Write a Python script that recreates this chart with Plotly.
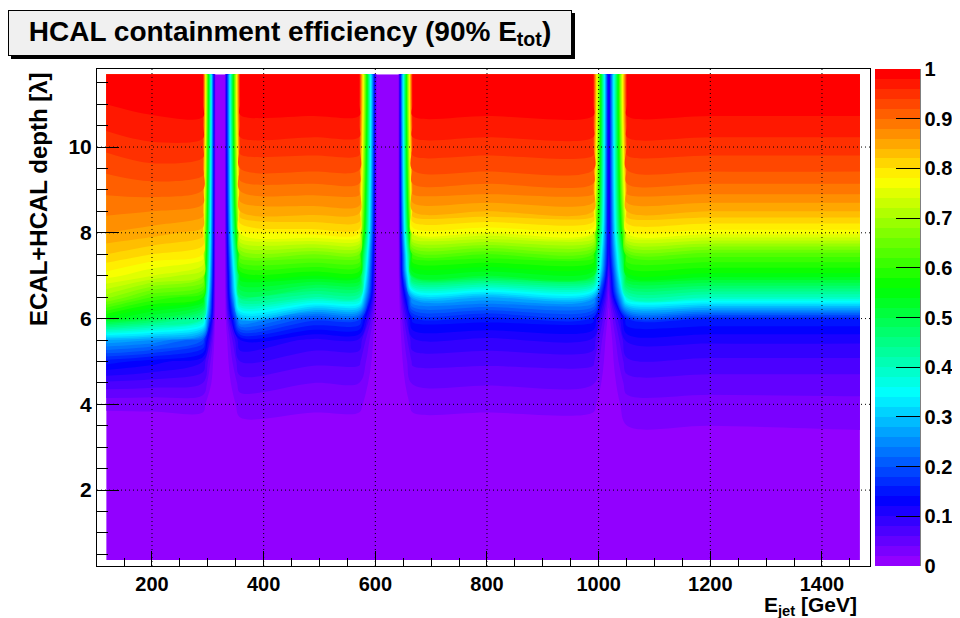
import colorsys
import numpy as np
import plotly.graph_objects as go

# ---------------- data ----------------
energy = [118, 200, 291, 314, 330, 358, 490, 571, 603, 641, 667, 800, 990, 1018, 1051, 1200, 1468]
depth = [0.37, 1.0, 2.0, 3.0, 3.5, 4.0, 4.5, 5.0, 5.5, 6.0, 6.5, 7.0, 7.5, 8.0, 8.5, 9.0, 9.5, 10.0, 10.5, 11.0, 11.70]

eff_120 = [0, 0, 0, 0.003, 0.008, 0.025, 0.075, 0.15, 0.28, 0.55, 0.69, 0.77, 0.82, 0.86, 0.885, 0.905, 0.925, 0.945, 0.965, 0.98, 0.99]
eff_200 = [0, 0, 0, 0.005, 0.01, 0.025, 0.07, 0.13, 0.26, 0.50, 0.62, 0.74, 0.80, 0.85, 0.88, 0.91, 0.935, 0.955, 0.975, 0.985, 0.995]
eff_290 = [0, 0, 0, 0.005, 0.012, 0.025, 0.06, 0.10, 0.20, 0.42, 0.58, 0.70, 0.78, 0.83, 0.87, 0.90, 0.93, 0.95, 0.975, 0.988, 0.995]
eff_gap = [0, 0, 0, 0, 0, 0, 0, 0, 0, 0, 0, 0, 0, 0, 0, 0, 0, 0, 0, 0, 0]
eff_360 = [0, 0, 0, 0.005, 0.015, 0.028, 0.05, 0.08, 0.12, 0.28, 0.47, 0.56, 0.66, 0.77, 0.84, 0.885, 0.92, 0.95, 0.972, 0.988, 0.995]
eff_490 = [0, 0, 0, 0.005, 0.012, 0.025, 0.04, 0.065, 0.095, 0.19, 0.42, 0.56, 0.66, 0.79, 0.85, 0.89, 0.925, 0.95, 0.972, 0.99, 0.995]
eff_730 = [0, 0, 0, 0.005, 0.012, 0.025, 0.042, 0.065, 0.095, 0.15, 0.28, 0.52, 0.62, 0.76, 0.84, 0.89, 0.925, 0.95, 0.972, 0.99, 0.995]
eff_1018 = [0, 0, 0, 0, 0, 0, 0, 0, 0, 0.01, 0.03, 0.06, 0.10, 0.10, 0.10, 0.10, 0.10, 0.10, 0.10, 0.10, 0.10]
eff_1200 = [0, 0, 0, 0.008, 0.02, 0.032, 0.05, 0.075, 0.105, 0.16, 0.40, 0.55, 0.63, 0.77, 0.84, 0.89, 0.925, 0.95, 0.972, 0.99, 0.995]
eff_1468 = [0, 0, 0, 0.012, 0.022, 0.034, 0.05, 0.075, 0.105, 0.16, 0.40, 0.55, 0.63, 0.77, 0.84, 0.89, 0.925, 0.95, 0.972, 0.99, 0.995]

columns = [eff_120, eff_200, eff_290, eff_gap, eff_gap, eff_360, eff_490, eff_490,
           eff_gap, eff_gap, eff_730, eff_730, eff_730, eff_1018, eff_1200, eff_1200, eff_1468]

x_ticks = [200, 400, 600, 800, 1000, 1200, 1400]
y_ticks = [2, 4, 6, 8, 10]
cbar_ticks = [0, 0.1, 0.2, 0.3, 0.4, 0.5, 0.6, 0.7, 0.8, 0.9, 1]
cbar_labels = ["0", "0.1", "0.2", "0.3", "0.4", "0.5", "0.6", "0.7", "0.8", "0.9", "1"]

# ---------------- layout geometry (page has an 8px body margin) ----------------
OFF = 8
W, H = 960 - OFF, 618 - OFF
L, R, T, B = 97 - OFF, 90, 69 - OFF, 52
PW, PH = W - L - R, H - T - B


def px(xp):  # reference-picture x pixel -> paper
    return (xp - OFF - L) / PW


def py(yp):  # reference-picture y pixel -> paper
    return (H - B - (yp - OFF)) / PH


# ROOT "pretty palette" (50 colours, hue 280 -> 0)
n_col = 50
pal = []
for k in range(n_col):
    hue = 280 - (k + 1) * (280 / n_col)
    r, g, b = colorsys.hls_to_rgb(hue / 360.0, 0.5, 1.0)
    pal.append("rgb(%d,%d,%d)" % (round(r * 255), round(g * 255), round(b * 255)))

cs_fill = [[k / (n_col - 1), c] for k, c in enumerate(pal)]
cs_step = []
for k, c in enumerate(pal):
    cs_step.append([k / n_col, c])
    cs_step.append([(k + 1) / n_col, c])

FONT = "Liberation Sans, Arial, Helvetica, sans-serif"

z = np.array(columns).T

fig = go.Figure()
fig.add_trace(go.Contour(
    x=energy, y=depth, z=z,
    autocontour=False,
    contours=dict(start=0.02, end=0.98, size=0.02, coloring="fill", showlines=False),
    line=dict(width=0),
    colorscale=cs_fill,
    showscale=False,
    hoverinfo="skip",
))

# colour bar (palette axis 0..1)
fig.add_trace(go.Scatter(
    x=[None], y=[None], mode="markers",
    marker=dict(color=[0.5], cmin=0, cmax=1, colorscale=cs_step, showscale=True,
                colorbar=dict(
                    thickness=45, thicknessmode="pixels",
                    len=1, lenmode="fraction",
                    x=px(875), xanchor="left", y=0.5, yanchor="middle",
                    xpad=0, ypad=0,
                    outlinewidth=0,
                    ticks="inside", ticklen=24, tickwidth=1, tickcolor="black",
                    tickmode="array", tickvals=cbar_ticks, ticktext=cbar_labels,
                    ticklabeloverflow="allow",
                    tickfont=dict(family=FONT, size=20, color="black", weight="bold"),
                )),
    hoverinfo="skip", showlegend=False,
))

shapes = []
for t in x_ticks:
    shapes.append(dict(type="line", xref="x", yref="paper", x0=t, x1=t, y0=0, y1=1,
                       line=dict(color="black", width=1, dash="1px,3px"), layer="above"))
for t in y_ticks:
    shapes.append(dict(type="line", xref="paper", yref="y", x0=0, x1=1, y0=t, y1=t,
                       line=dict(color="black", width=1, dash="1px,3px"), layer="above"))
# palette axis line (right edge of the colour bar)
shapes.append(dict(type="line", xref="paper", yref="paper", x0=px(920), x1=px(920), y0=0, y1=1,
                   line=dict(color="black", width=1), layer="above"))
# title box shadow
shapes.append(dict(type="rect", xref="paper", yref="paper",
                   x0=px(11), x1=px(575), y0=py(59), y1=py(13),
                   fillcolor="black", line=dict(width=0), layer="below"))

annotations = [
    dict(text="HCAL containment efficiency (90% E<sub>tot</sub>)",
         xref="paper", yref="paper", x=px(290), y=py(33), xanchor="center", yanchor="middle",
         width=560, height=42, borderpad=1, borderwidth=1, bordercolor="black", bgcolor="#f0f0f0",
         showarrow=False, font=dict(family=FONT, size=28, color="black", weight="bold")),
    dict(text="ECAL+HCAL depth [λ]", textangle=-90,
         xref="paper", yref="paper", x=px(38), y=py(70), xanchor="center", yanchor="top",
         showarrow=False, font=dict(family=FONT, size=24, color="black", weight="bold")),
    dict(text="E<sub>jet</sub> [GeV]",
         xref="paper", yref="paper", x=px(859), y=py(606), xanchor="right", yanchor="middle",
         showarrow=False, font=dict(family=FONT, size=21, color="black", weight="bold")),
]

fig.update_layout(
    width=W, height=H,
    margin=dict(l=L, r=R, t=T, b=B, autoexpand=False),
    paper_bgcolor="white", plot_bgcolor="white",
    shapes=shapes, annotations=annotations,
    showlegend=False,
    xaxis=dict(range=[101.5, 1486], tick0=0, dtick=200, showgrid=False, zeroline=False,
               showline=True, mirror=True, linecolor="black", linewidth=1,
               ticks="inside", ticklen=15, tickwidth=1, tickcolor="black",
               minor=dict(ticks="inside", ticklen=8, dtick=50, tick0=0, tickcolor="black", showgrid=False),
               tickfont=dict(family=FONT, size=20, color="black", weight="bold")),
    yaxis=dict(range=[0.23, 11.82], tick0=0, dtick=2, showgrid=False, zeroline=False,
               showline=True, mirror=True, linecolor="black", linewidth=1,
               ticks="inside", ticklen=22, tickwidth=1, tickcolor="black",
               minor=dict(ticks="inside", ticklen=11, dtick=0.5, tick0=0, tickcolor="black", showgrid=False),
               tickfont=dict(family=FONT, size=21, color="black", weight="bold")),
)

fig.write_html("out.html")
